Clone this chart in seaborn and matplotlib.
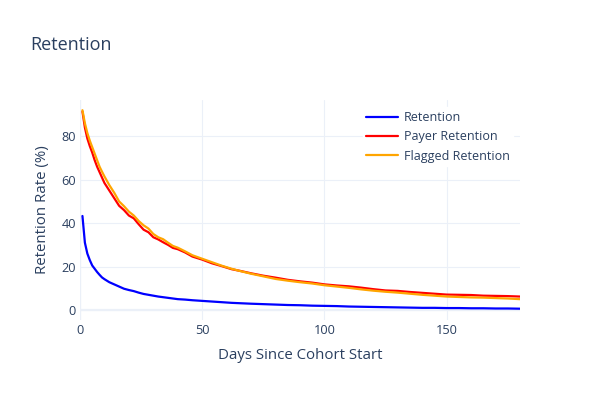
import pandas as pd
import seaborn as sns
import matplotlib.pyplot as plt

days = [1, 2, 3, 4, 5, 6, 7, 8, 9, 10, 12, 14, 16, 18, 20, 22, 24, 26, 28, 30,
        32, 34, 36, 38, 40, 43, 46, 50, 54, 58, 62, 66, 70, 75, 80, 85, 90, 95,
        100, 105, 110, 115, 120, 125, 130, 135, 140, 145, 150, 155, 160, 165,
        170, 175, 180]

retention = [43.3, 31, 26, 23, 20.5, 19, 17.5, 16.2, 15, 14.2, 12.8, 11.8, 10.8,
             9.8, 9.2, 8.7, 8.0, 7.4, 7.0, 6.6, 6.2, 5.9, 5.6, 5.3, 5.0, 4.8, 4.5,
             4.2, 3.9, 3.6, 3.3, 3.1, 2.9, 2.7, 2.5, 2.3, 2.2, 2.0, 1.9, 1.8, 1.6,
             1.5, 1.4, 1.3, 1.2, 1.1, 1.0, 1.0, 0.9, 0.9, 0.8, 0.8, 0.7, 0.7, 0.6]

payer_retention = [91.4, 84, 79, 75.5, 72.5, 69, 66, 63.5, 61, 58.5, 55, 51.5, 48,
                   46, 43.5, 42.2, 39.5, 37, 35.8, 33.5, 32.5, 31.2, 30, 28.6, 28,
                   26.5, 24.6, 23.2, 21.5, 20.2, 18.8, 17.9, 16.9, 15.8, 14.9, 13.9,
                   13.2, 12.6, 11.8, 11.3, 10.9, 10.3, 9.6, 9.0, 8.8, 8.3, 7.9, 7.5,
                   7.1, 7.0, 6.9, 6.6, 6.5, 6.4, 6.2]

flagged_retention = [92, 86, 81.5, 78, 75, 72, 69, 66, 63.7, 61.5, 57.5, 54, 50,
                     47.8, 45.3, 43.5, 41, 39, 37.5, 35, 33.5, 32.6, 31, 29.5, 28.7,
                     27, 25.2, 23.6, 22, 20.4, 19, 17.8, 16.7, 15.5, 14.3, 13.5,
                     12.8, 12.2, 11.4, 10.8, 10.2, 9.5, 8.9, 8.4, 8.0, 7.5, 7.0, 6.6,
                     6.2, 6.0, 5.8, 5.7, 5.5, 5.3, 5.0]

series_names = ['Retention', 'Payer Retention', 'Flagged Retention']
colors = ['blue', 'red', 'orange']

df = pd.concat([
    pd.DataFrame({'day': days, 'rate': vals, 'series': name})
    for name, vals in zip(series_names, [retention, payer_retention, flagged_retention])
])

sns.set_theme(style='white')
plt.rcParams['font.family'] = ['Open Sans', 'DejaVu Sans']
text_color = '#2a3f5f'
grid_color = '#EBF0F8'

fig = plt.figure(figsize=(6, 4), dpi=100)
ax = fig.add_axes([80 / 600, 80 / 400, 440 / 600, 220 / 400])

sns.lineplot(data=df, x='day', y='rate', hue='series', hue_order=series_names,
             palette=colors, linewidth=1.6, ax=ax)

ax.set_xlim(0, 180)
ax.set_ylim(-4.6, 96.7)
ax.set_xticks([0, 50, 100, 150])
ax.set_yticks([0, 20, 40, 60, 80])
ax.grid(True, color=grid_color, linewidth=0.8)
ax.axhline(0, color=grid_color, linewidth=1.6, zorder=0.5)
ax.axvline(0, color=grid_color, linewidth=1.6, zorder=0.5)
ax.set_axisbelow(True)
for s in ax.spines.values():
    s.set_visible(False)
ax.tick_params(length=0, labelsize=9.2, labelcolor=text_color, pad=3)

ax.set_xlabel('Days Since Cohort Start', fontsize=10.8, color=text_color, labelpad=8)
ax.set_ylabel('Retention Rate (%)', fontsize=10.8, color=text_color, labelpad=8)

leg = ax.legend(loc='upper left', bbox_to_anchor=(0.628, 0.995), fontsize=9.0,
                frameon=True, facecolor='white', edgecolor='white', framealpha=1,
                handlelength=2.5, labelspacing=0.5, borderpad=0.3, handletextpad=0.5)
for t in leg.get_texts():
    t.set_color(text_color)

fig.text(30 / 600, 1 - 45 / 400, 'Retention', fontsize=13, color=text_color, va='center')

plt.savefig('out.png', dpi=100)
